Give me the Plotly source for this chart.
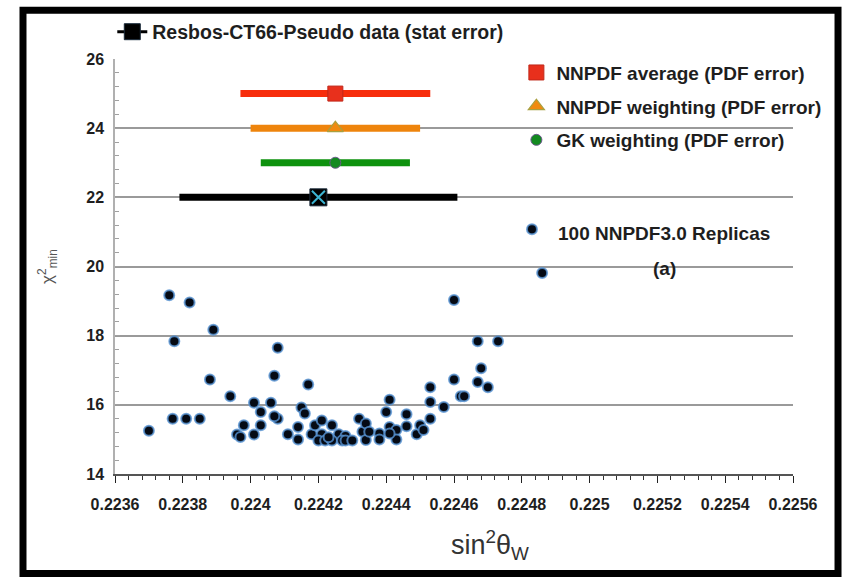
import plotly.graph_objects as go

# sin^2(theta_W) fits from the 100 NNPDF3.0 replicas and their chi^2_min
rep_x = [
    0.22370, 0.22377, 0.22376, 0.223775, 0.22381, 0.22382, 0.22385, 0.22388, 0.22389, 0.22394,
    0.22396, 0.22397, 0.22398, 0.22401, 0.22401, 0.22403, 0.22403, 0.22406, 0.22407, 0.22408,
    0.22408, 0.22407,
    0.22411, 0.22414, 0.22414, 0.22415, 0.22416, 0.22417, 0.22418, 0.22419, 0.22421, 0.22421,
    0.22424, 0.22426, 0.22428, 0.22420, 0.22422, 0.22424, 0.22427, 0.22428, 0.22430,
    0.22432, 0.22433, 0.22434, 0.22434, 0.22438, 0.22438, 0.22440, 0.22441, 0.22441, 0.22443,
    0.22443, 0.22446, 0.22446, 0.22449, 0.22450, 0.22451, 0.22453, 0.22453, 0.22453, 0.22457,
    0.22460, 0.22460, 0.22462, 0.22463, 0.22467, 0.22467, 0.22468, 0.22470, 0.22473, 0.22483, 0.22486,
    0.22423, 0.22435, 0.22441,
]
rep_y = [
    15.25, 15.60, 19.17, 17.84, 15.60, 18.96, 15.60, 16.73, 18.17, 16.25,
    15.14, 15.07, 15.41, 16.06, 15.14, 15.79, 15.41, 16.06, 16.84, 17.65,
    15.60, 15.67,
    15.15, 15.36, 15.00, 15.92, 15.75, 16.59, 15.15, 15.41, 15.15, 15.55,
    15.41, 15.15, 15.10, 14.97, 14.97, 14.97, 14.97, 14.97, 14.97,
    15.60, 15.22, 14.98, 15.46, 15.17, 15.00, 15.79, 16.15, 15.36, 15.27,
    15.00, 15.73, 15.38, 15.15, 15.41, 15.27, 16.51, 16.08, 15.60, 15.94,
    19.03, 16.73, 16.25, 16.25, 17.84, 16.66, 17.06, 16.51, 17.84, 21.08, 19.81,
    15.06, 15.22, 15.17,
]

# Summary results: central value, half-width of the error, row on the chi^2 axis
summary_names = [
    "NNPDF average (PDF error)",
    "NNPDF weighting (PDF error)",
    "GK weighting (PDF error)",
]
summary_x = [0.22425, 0.22425, 0.22425]
summary_err = [0.00028, 0.00025, 0.00022]
summary_y = [25, 24, 23]

pseudo_name = "Resbos-CT66-Pseudo data (stat error)"
pseudo_x = 0.2242
pseudo_err = 0.00041
pseudo_y = 22

x_tick_vals = [0.2236, 0.2238, 0.2240, 0.2242, 0.2244, 0.2246,
               0.2248, 0.2250, 0.2252, 0.2254, 0.2256]
x_tick_labels = ["0.2236", "0.2238", "0.224", "0.2242", "0.2244", "0.2246",
                 "0.2248", "0.225", "0.2252", "0.2254", "0.2256"]

BOLD_FONT = "Liberation Sans, Arial, sans-serif"
TEXT_COLOR = "#1e1e1e"

fig = go.Figure()

# replica cloud
fig.add_trace(go.Scatter(
    x=rep_x, y=rep_y, mode="markers", showlegend=False,
    marker=dict(symbol="circle", size=10, color="#050a14",
                line=dict(color="rgba(86,146,210,0.8)", width=2)),
))

summary_style = [
    dict(bar="#f72d0c", marker=dict(symbol="square", size=15, color="#e8301c",
                                     line=dict(color="#c0281a", width=1))),
    dict(bar="#ee840c", marker=dict(symbol="triangle-up", size=14, color="#f08a10",
                                     line=dict(color="#a8a040", width=1.2))),
    dict(bar="#0e920e", marker=dict(symbol="circle", size=11, color="#138a20",
                                     line=dict(color="#6a5a8a", width=1))),
]
for i, (name, xv, err, yv) in enumerate(zip(summary_names, summary_x, summary_err, summary_y)):
    st = summary_style[i]
    fig.add_trace(go.Scatter(
        x=[xv], y=[yv], name=name, mode="markers",
        legend="legend", legendgroup=f"g{i}",
        error_x=dict(type="data", array=[err], color=st["bar"], thickness=7, width=0),
        marker=st["marker"],
    ))

# pseudo-data fit: black bar with a boxed cross
fig.add_trace(go.Scatter(
    x=[pseudo_x], y=[pseudo_y], name=pseudo_name, mode="lines+markers",
    legend="legend2",
    line=dict(color="#000000", width=3),
    error_x=dict(type="data", array=[pseudo_err], color="#000000", thickness=7, width=0),
    marker=dict(symbol="square", size=17, color="#000000",
                line=dict(color="#1a2a3a", width=1)),
))
fig.add_trace(go.Scatter(
    x=[pseudo_x], y=[pseudo_y], mode="markers", showlegend=False,
    marker=dict(symbol="x-thin", size=13, line=dict(color="#3cb4d2", width=2)),
))

fig.update_layout(
    width=845, height=579,
    margin=dict(l=115, r=52, t=57, b=105),
    paper_bgcolor="white", plot_bgcolor="white",
    font=dict(family=BOLD_FONT, color=TEXT_COLOR),
    legend=dict(
        x=0.592, y=1.013, xanchor="left", yanchor="top",
        bgcolor="rgba(0,0,0,0)", traceorder="grouped", tracegroupgap=6,
        font=dict(family=BOLD_FONT, size=19, color=TEXT_COLOR, weight="bold"),
        itemwidth=30,
    ),
    legend2=dict(
        x=-0.004, y=1.112, xanchor="left", yanchor="top",
        bgcolor="rgba(0,0,0,0)",
        font=dict(family=BOLD_FONT, size=19.5, color=TEXT_COLOR, weight="bold"),
        itemwidth=30,
    ),
    xaxis=dict(
        range=[0.2236, 0.2256],
        tickvals=x_tick_vals, ticktext=x_tick_labels,
        tickfont=dict(family=BOLD_FONT, size=16, color=TEXT_COLOR, weight="bold"),
        ticklabelstandoff=8,
        showgrid=False, zeroline=False,
        showline=True, linecolor="#555555", linewidth=1.5,
        ticks="outside", ticklen=7, tickcolor="#222222", tickwidth=1.3,
        minor=dict(dtick=0.00004, ticks="outside", ticklen=4,
                   tickcolor="#333333", tickwidth=1, showgrid=False),
    ),
    yaxis=dict(
        range=[14, 26], dtick=2,
        tickfont=dict(family=BOLD_FONT, size=16, color=TEXT_COLOR, weight="bold"),
        ticklabelstandoff=6,
        showgrid=True, gridcolor="#9a9a9a", gridwidth=1.5, zeroline=False,
        showline=True, linecolor="#b0b0b0", linewidth=1.5,
        ticks="inside", ticklen=5, tickcolor="#a0a0a0",
        minor=dict(dtick=0.4, ticks="inside", ticklen=4,
                   tickcolor="#a0a0a0", showgrid=False),
        title=dict(text="χ<sup>2</sup><sub>min</sub>", standoff=28,
                   font=dict(family=BOLD_FONT, size=17, color="#555555")),
    ),
    annotations=[
        dict(text="sin<sup>2</sup>θ<sub>W</sub>", xref="paper", yref="paper",
             x=0.553, y=-0.17, xanchor="center", yanchor="middle", showarrow=False,
             font=dict(family=BOLD_FONT, size=27, color="#333333")),
        dict(text="100 NNPDF3.0 Replicas", xref="paper", yref="paper",
             x=0.81, y=0.58, xanchor="center", yanchor="middle", showarrow=False,
             font=dict(family=BOLD_FONT, size=19, color=TEXT_COLOR, weight="bold")),
        dict(text="(a)", xref="paper", yref="paper",
             x=0.81, y=0.496, xanchor="center", yanchor="middle", showarrow=False,
             font=dict(family=BOLD_FONT, size=19, color=TEXT_COLOR, weight="bold")),
    ],
    shapes=[
        # outer frame around the whole figure
        dict(type="rect", xref="paper", yref="paper",
             x0=-0.1357, x1=1.0664, y0=-0.2398, y1=1.1175,
             line=dict(color="#000000", width=7), fillcolor="rgba(0,0,0,0)"),
    ],
)

fig.write_html("out.html")
